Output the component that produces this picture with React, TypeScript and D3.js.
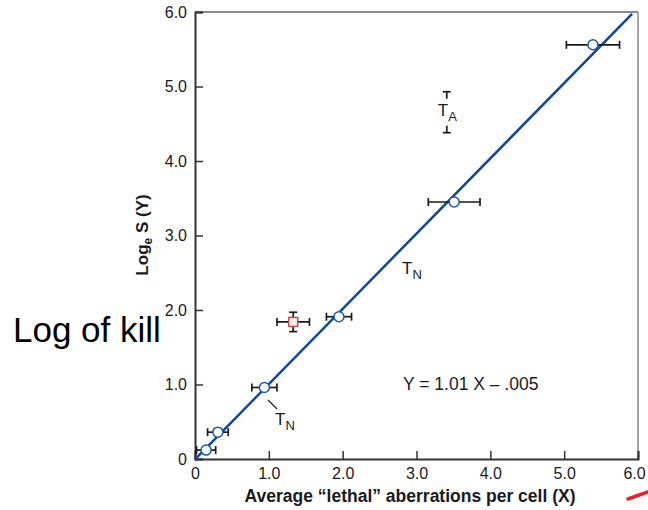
import React, { useEffect, useRef } from 'react';
import * as d3 from 'd3';

// circle points: x, y, half width of horizontal error bar
const pointX = [0.15, 0.31, 0.94, 1.95, 3.51, 5.39];
const pointY = [0.12, 0.36, 0.96, 1.91, 3.45, 5.56];
const pointXErr = [0.13, 0.14, 0.17, 0.17, 0.35, 0.36];

// red square point
const redX = 1.33;
const redY = 1.84;
const redXErr = 0.22;
const redYErr = 0.13;

// T_A bar
const taX = 3.41;
const taLow = 4.38;
const taHigh = 4.93;

const ticks = [0, 1, 2, 3, 4, 5, 6];
const tickLabels = ['0', '1.0', '2.0', '3.0', '4.0', '5.0', '6.0'];

const slope = 1.01;
const intercept = -0.005;
const fitRange = [0, 5.92];

export default function App() {
  const ref = useRef<SVGSVGElement>(null);

  useEffect(() => {
    const svg = d3.select(ref.current);
    svg.selectAll('*').remove();
    const font = 'Liberation Sans, Arial, sans-serif';

    const x = d3.scaleLinear().domain([0, 6]).range([195, 638]);
    const y = d3.scaleLinear().domain([0, 6]).range([459, 12]);

    // frame
    svg.append('line').attr('x1', x(0)).attr('x2', x(6)).attr('y1', y(6)).attr('y2', y(6)).attr('stroke', '#666').attr('stroke-width', 1.5);
    svg.append('line').attr('x1', x(6)).attr('x2', x(6)).attr('y1', y(0)).attr('y2', y(6)).attr('stroke', '#888').attr('stroke-width', 1.5);

    const xAxis = svg.append('g').attr('transform', `translate(0,${y(0)})`)
      .call(d3.axisBottom(x).tickValues(ticks).tickSize(-8).tickPadding(9).tickFormat((d, i) => tickLabels[i]));
    xAxis.select('.domain').attr('stroke', '#333').attr('stroke-width', 2);
    xAxis.selectAll('.tick line').attr('stroke', '#333').attr('stroke-width', 1.5);
    xAxis.selectAll('.tick text').attr('font-family', font).attr('font-size', 16).attr('fill', '#1a1a1a')
      .attr('dx', (d, i) => (i === ticks.length - 1 ? -4 : 0));

    const yAxis = svg.append('g').attr('transform', `translate(${x(0)},0)`)
      .call(d3.axisLeft(y).tickValues(ticks).tickSize(-8).tickPadding(8).tickFormat((d, i) => tickLabels[i]));
    yAxis.select('.domain').attr('stroke', '#333').attr('stroke-width', 2);
    yAxis.selectAll('.tick line').attr('stroke', '#333').attr('stroke-width', 1.5);
    yAxis.selectAll('.tick text').attr('font-family', font).attr('font-size', 16).attr('fill', '#1a1a1a');

    // fit line
    svg.append('line')
      .attr('x1', x(fitRange[0])).attr('y1', y(slope * fitRange[0] + intercept))
      .attr('x2', x(fitRange[1])).attr('y2', y(slope * fitRange[1] + intercept))
      .attr('stroke', '#11479a').attr('stroke-width', 2.5);

    const cap = 4;
    const bars = svg.append('g').attr('stroke', '#1a1a1a').attr('stroke-width', 1.7);
    pointX.forEach((px, i) => {
      const yy = y(pointY[i]);
      const x1 = x(Math.max(0, px - pointXErr[i]));
      const x2 = x(px + pointXErr[i]);
      bars.append('line').attr('x1', x1).attr('x2', x2).attr('y1', yy).attr('y2', yy);
      if (px - pointXErr[i] > 0) bars.append('line').attr('x1', x1).attr('x2', x1).attr('y1', yy - cap).attr('y2', yy + cap);
      bars.append('line').attr('x1', x2).attr('x2', x2).attr('y1', yy - cap).attr('y2', yy + cap);
    });

    // red point error bars
    const rx1 = x(redX - redXErr), rx2 = x(redX + redXErr);
    const ry1 = y(redY - redYErr), ry2 = y(redY + redYErr);
    bars.append('line').attr('x1', rx1).attr('x2', rx2).attr('y1', y(redY)).attr('y2', y(redY));
    bars.append('line').attr('x1', rx1).attr('x2', rx1).attr('y1', y(redY) - cap).attr('y2', y(redY) + cap);
    bars.append('line').attr('x1', rx2).attr('x2', rx2).attr('y1', y(redY) - cap).attr('y2', y(redY) + cap);
    bars.append('line').attr('x1', x(redX)).attr('x2', x(redX)).attr('y1', ry1).attr('y2', ry2);
    bars.append('line').attr('x1', x(redX) - cap).attr('x2', x(redX) + cap).attr('y1', ry1).attr('y2', ry1);
    bars.append('line').attr('x1', x(redX) - cap).attr('x2', x(redX) + cap).attr('y1', ry2).attr('y2', ry2);

    // T_A bar: caps with short stems
    const tx = x(taX);
    bars.append('line').attr('x1', tx - cap).attr('x2', tx + cap).attr('y1', y(taHigh)).attr('y2', y(taHigh));
    bars.append('line').attr('x1', tx).attr('x2', tx).attr('y1', y(taHigh)).attr('y2', y(taHigh) + 7);
    bars.append('line').attr('x1', tx - cap).attr('x2', tx + cap).attr('y1', y(taLow)).attr('y2', y(taLow));
    bars.append('line').attr('x1', tx).attr('x2', tx).attr('y1', y(taLow)).attr('y2', y(taLow) - 7);

    svg.append('g').selectAll('circle').data(pointX).join('circle')
      .attr('cx', d => x(d)).attr('cy', (d, i) => y(pointY[i])).attr('r', 5)
      .attr('fill', '#fff').attr('stroke', '#1d5aa8').attr('stroke-width', 1.5);

    svg.append('rect').attr('x', x(redX) - 4.5).attr('y', y(redY) - 4.5).attr('width', 9).attr('height', 9)
      .attr('fill', '#fbeeee').attr('stroke', '#c0504d').attr('stroke-width', 1.5);

    const sub = (tx: number, ty: number, main: string, s: string) => {
      const t = svg.append('text').attr('x', tx).attr('y', ty).attr('font-family', font).attr('font-size', 17).attr('fill', '#1a1a1a');
      t.append('tspan').text(main);
      t.append('tspan').attr('dy', 5).attr('font-size', 13).text(s);
    };
    sub(tx - 9, y(4.65) + 3, 'T', 'A');
    sub(402, 274, 'T', 'N');
    sub(275, 425, 'T', 'N');
    svg.append('line').attr('x1', 268).attr('y1', 400).attr('x2', 277).attr('y2', 409).attr('stroke', '#222').attr('stroke-width', 1.2);

    svg.append('text').attr('x', 403).attr('y', 390).attr('font-family', font).attr('font-size', 17.5).attr('fill', '#1a1a1a')
      .text('Y = 1.01 X \u2013 .005');

    svg.append('text').attr('x', 410).attr('y', 502).attr('text-anchor', 'middle').attr('font-family', font)
      .attr('font-size', 17.5).attr('font-weight', 'bold').attr('fill', '#1a1a1a')
      .text('Average \u201clethal\u201d aberrations per cell (X)');

    const yl = svg.append('text').attr('transform', 'translate(148,235) rotate(-90)').attr('text-anchor', 'middle')
      .attr('font-family', font).attr('font-size', 17).attr('font-weight', 'bold').attr('fill', '#1a1a1a');
    yl.append('tspan').text('Log');
    yl.append('tspan').attr('dy', 4).attr('font-size', 12).text('e');
    yl.append('tspan').attr('dy', -4).text(' S (Y)');

    svg.append('text').attr('x', 13).attr('y', 342).attr('font-family', font).attr('font-size', 35).attr('fill', '#000')
      .text('Log of kill');

    svg.append('path').attr('d', 'M628,499 L648,492').attr('stroke', '#e8202a').attr('stroke-width', 3.5).attr('stroke-linecap', 'round');
  }, []);

  return (
    <svg ref={ref} width={648} height={510} style={{ position: 'absolute', left: 0, top: 0, background: '#fff' }} />
  );
}
